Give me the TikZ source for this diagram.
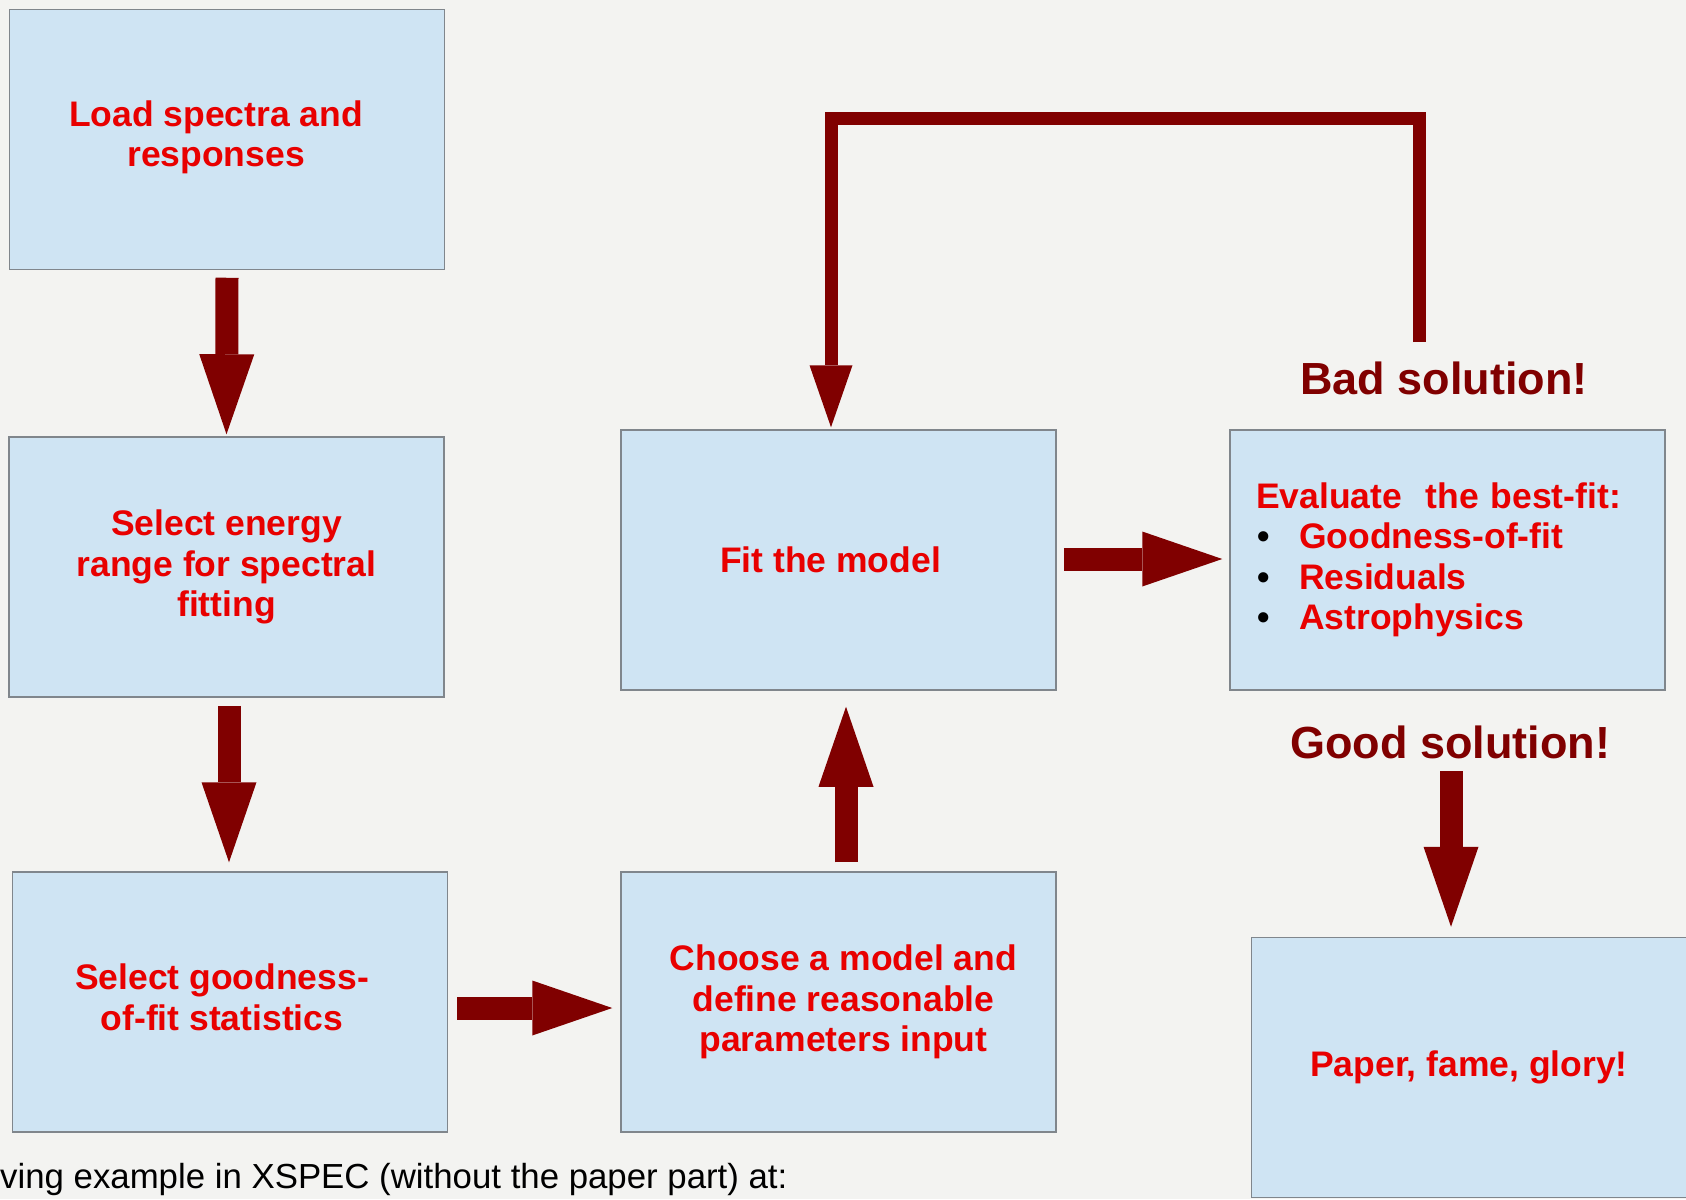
\documentclass[tikz,border=0pt]{standalone}
\usepackage{fontspec}
\setmainfont{Liberation Sans}
\usetikzlibrary{arrows.meta}
\definecolor{bgc}{RGB}{243,243,241}
\definecolor{boxfill}{RGB}{207,228,243}
\definecolor{boxline}{RGB}{128,134,140}
\definecolor{txtred}{RGB}{232,0,0}
\definecolor{maroonc}{RGB}{128,0,0}
\newcommand{\offtext}[3]{\raisebox{#2}[\height][\depth]{\kern#1\relax\begin{tabular}{@{}c@{}}#3\end{tabular}\kern-#1\relax}}
\begin{document}
\begin{tikzpicture}[x=1pt,y=-1pt,
  box/.style={draw=boxline,line width=1.5pt,fill=boxfill,minimum width=435pt,minimum height=260pt,
    align=center,text=txtred,font=\fontsize{35.5}{40.5}\selectfont\bfseries,inner sep=0pt},
  blockarrow/.style={draw=maroonc,line width=23pt,-{Triangle[width=55pt,length=80pt,line width=0pt]}},
  loopline/.style={draw=maroonc,line width=13pt,line join=miter,-{Triangle[width=43pt,length=62pt,line width=0pt]}},
  verdict/.style={text=maroonc,font=\fontsize{45}{50}\selectfont\bfseries,inner sep=0pt}]
\fill[bgc] (0,0) rectangle (1686,1199);
\useasboundingbox (0,0) rectangle (1686,1199);

\node[box] (b1) at (227,139.5) {\offtext{-11pt}{1pt}{Load spectra and\\responses}};
\node[box] (b2) at (226.5,567) {Select energy\\range for spectral\\fitting};
\node[box] (b3) at (230,1002) {\offtext{-8pt}{0pt}{Select goodness-\\of-fit statistics}};
\node[box] (b4) at (838.5,1002) {\offtext{5pt}{-1pt}{Choose a model and\\define reasonable\\parameters input}};
\node[box] (b5) at (838.5,560) {\offtext{-8pt}{-4pt}{Fit the model}};
\node[box,text width=383pt,inner xsep=26pt,align=left] (b6) at (1447.5,560)
  {Evaluate\ \ the best-fit:\\
   \hspace*{1pt}\makebox[42pt][l]{\textcolor{black}{\textbullet}}Goodness-of-fit\\
   \hspace*{1pt}\makebox[42pt][l]{\textcolor{black}{\textbullet}}Residuals\\
   \hspace*{1pt}\makebox[42pt][l]{\textcolor{black}{\textbullet}}Astrophysics};
\node[box] (b7) at (1469,1067.5) {Paper, fame, glory!};

\node[verdict] (bad) at (1444,378) {Bad solution!};
\node[verdict] (good) at (1450,742) {Good solution!};

\node[anchor=base west,inner sep=0pt,font=\fontsize{34.8}{38}\selectfont] (foot) at (0,1188)
  {ving example in XSPEC (without the paper part) at:};

\draw[blockarrow] ([yshift=-7.5pt]b1.south) -- ([yshift=2pt]b2.north);
\draw[blockarrow] ([xshift=2.5pt,yshift=-8pt]b2.south) -- ([xshift=-1pt,yshift=9pt]b3.north);
\draw[blockarrow] ([xshift=9pt,yshift=-6pt]b3.east) -- ([xshift=-8pt,yshift=-6pt]b4.west);
\draw[blockarrow] ([xshift=7.5pt,yshift=9pt]b4.north) -- ([xshift=7.5pt,yshift=-16pt]b5.south);
\draw[blockarrow] ([xshift=7pt,yshift=1pt]b5.east) -- ([xshift=-7pt,yshift=1pt]b6.west);
\draw[blockarrow] ([xshift=1pt,yshift=-29pt]good.center) -- ([xshift=-18pt,yshift=10pt]b7.north);

\coordinate (loopstart) at ([xshift=-25pt,yshift=36pt]bad.center);
\draw[loopline] (loopstart) -- ++(0,-224) -| ([xshift=-7.5pt,yshift=2pt]b5.north);
\end{tikzpicture}
\end{document}
